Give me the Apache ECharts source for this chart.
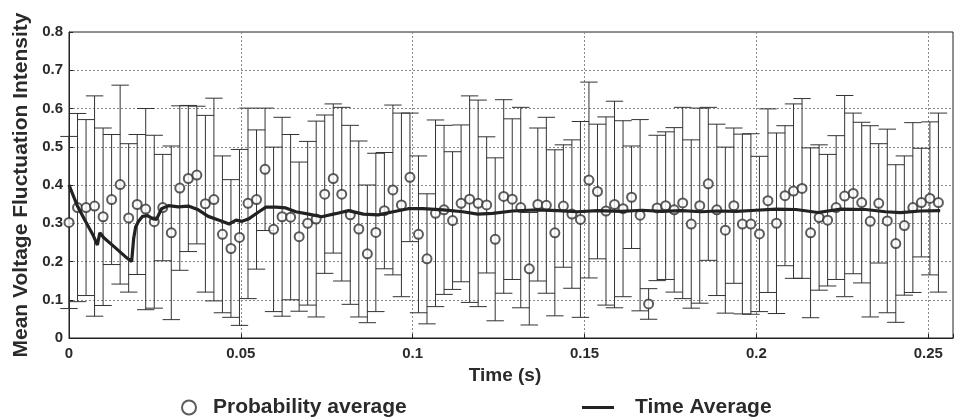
<!DOCTYPE html>
<html><head><meta charset="utf-8">
<script src="https://cdn.jsdelivr.net/npm/echarts@6/dist/echarts.min.js"></script>
<style>html,body{margin:0;padding:0;background:#fff}#c{width:956px;height:419px}</style>
</head><body><div id="c"></div>
<script>
// Sample times (s)
const times = [0,0.00248,0.00496,0.00744,0.00992,0.0124,0.01488,0.01736,0.01984,0.02232,
0.0248,0.02728,0.02976,0.03224,0.03472,0.0372,0.03968,0.04216,0.04464,0.04712,
0.0496,0.05208,0.05456,0.05704,0.05952,0.062,0.06448,0.06696,0.06944,0.07192,
0.0744,0.07688,0.07936,0.08184,0.08432,0.0868,0.08928,0.09176,0.09424,0.09672,
0.0992,0.10168,0.10416,0.10664,0.10912,0.1116,0.11408,0.11656,0.11904,0.12152,
0.124,0.12648,0.12896,0.13144,0.13392,0.1364,0.13888,0.14136,0.14384,0.14632,
0.1488,0.15128,0.15376,0.15624,0.15872,0.1612,0.16368,0.16616,0.16864,0.17112,
0.1736,0.17608,0.17856,0.18104,0.18352,0.186,0.18848,0.19096,0.19344,0.19592,
0.1984,0.20088,0.20336,0.20584,0.20832,0.2108,0.21328,0.21576,0.21824,0.22072,
0.2232,0.22568,0.22816,0.23064,0.23312,0.2356,0.23808,0.24056,0.24304,0.24552,
0.248,0.25048,0.25296];
// Probability average (circles)
const probAvg = [0.302,0.341,0.341,0.345,0.317,0.362,0.401,0.314,0.349,0.337,
0.304,0.341,0.275,0.392,0.417,0.426,0.351,0.362,0.271,0.234,
0.263,0.352,0.362,0.441,0.284,0.317,0.316,0.265,0.300,0.311,
0.376,0.417,0.376,0.322,0.285,0.220,0.276,0.333,0.387,0.348,
0.420,0.271,0.207,0.326,0.335,0.307,0.352,0.363,0.352,0.348,
0.258,0.370,0.363,0.341,0.181,0.349,0.347,0.275,0.345,0.324,
0.310,0.413,0.383,0.332,0.349,0.338,0.368,0.321,0.089,0.340,
0.346,0.335,0.353,0.298,0.346,0.403,0.335,0.282,0.346,0.298,
0.298,0.272,0.359,0.300,0.372,0.384,0.391,0.275,0.315,0.308,
0.341,0.371,0.378,0.354,0.305,0.352,0.306,0.247,0.294,0.341,
0.354,0.365,0.354];
// Error bar half-widths
const errHalf = [0.225,0.246,0.230,0.288,0.232,0.170,0.260,0.194,0.183,0.263,
0.226,0.139,0.227,0.215,0.191,0.180,0.231,0.265,0.205,0.180,
0.230,0.249,0.182,0.160,0.215,0.260,0.216,0.195,0.214,0.256,
0.207,0.195,0.227,0.234,0.230,0.180,0.207,0.152,0.222,0.240,
0.168,0.205,0.170,0.244,0.221,0.180,0.205,0.270,0.270,0.178,
0.213,0.253,0.210,0.262,0.147,0.200,0.230,0.217,0.160,0.194,
0.256,0.256,0.176,0.246,0.270,0.230,0.134,0.250,0.040,0.190,
0.193,0.215,0.250,0.220,0.255,0.200,0.224,0.217,0.203,0.235,
0.236,0.203,0.240,0.236,0.183,0.228,0.235,0.222,0.190,0.172,
0.188,0.263,0.210,0.210,0.250,0.156,0.240,0.206,0.182,0.222,
0.142,0.200,0.234];
// Time average curve
const timeAvgT = [0,0.00231,0.00463,0.00694,0.00825,0.00897,0.01013,0.0136,0.01649,0.01823,
0.01881,0.01939,0.02025,0.02141,0.02286,0.02431,0.02546,0.02691,0.02894,0.03183,
0.03472,0.03762,0.04051,0.04369,0.04659,0.04861,0.05035,0.05237,0.05527,0.05729,
0.06019,0.06308,0.06597,0.06973,0.0735,0.07755,0.08131,0.08565,0.09,0.09433,
0.09867,0.10301,0.1088,0.11458,0.11892,0.12326,0.12905,0.13628,0.14207,0.14786,
0.15365,0.16088,0.16667,0.17245,0.17824,0.18403,0.18837,0.19416,0.19994,0.20573,
0.21152,0.21788,0.22454,0.23177,0.23756,0.2419,0.24769,0.25347];
const timeAvgV = [0.400,0.348,0.308,0.270,0.243,0.275,0.262,0.235,0.212,0.200,
0.260,0.290,0.305,0.318,0.320,0.312,0.310,0.338,0.346,0.343,
0.345,0.335,0.318,0.308,0.298,0.308,0.305,0.312,0.330,0.342,
0.342,0.340,0.330,0.324,0.317,0.325,0.333,0.324,0.322,0.330,
0.338,0.338,0.335,0.330,0.324,0.326,0.332,0.335,0.333,0.330,
0.333,0.331,0.334,0.331,0.333,0.330,0.332,0.331,0.334,0.337,
0.336,0.328,0.337,0.336,0.330,0.328,0.332,0.333];
const xTicks = ['0','0.05','0.1','0.15','0.2','0.25'];
const yTicks = ['0','0.1','0.2','0.3','0.4','0.5','0.6','0.7','0.8'];

const FONT = '"Liberation Sans", Arial, sans-serif';
const INK = '#2a2a2a';
const scatterData = times.map((t,i)=>[t, probAvg[i]]);
const errData = times.map((t,i)=>[t, probAvg[i]-errHalf[i], probAvg[i]+errHalf[i]]);
const lineData = timeAvgT.map((t,i)=>[t, timeAvgV[i]]);
const CAP = 0.00253;

const chart = echarts.init(document.getElementById('c'), null, {renderer:'canvas'});
chart.setOption({
  animation:false,
  backgroundColor:'#fff',
  grid:{left:69, top:32, right:-2, bottom:81, show:true, borderColor:'#222', borderWidth:1},
  xAxis:{type:'value', min:0, max:0.2572, interval:0.05,
    name:'Time (s)', nameLocation:'middle', nameGap:24,
    nameTextStyle:{fontFamily:FONT, fontWeight:'bold', fontSize:19, color:INK, padding:[0,12,0,0]},
    axisLine:{show:true, onZero:false, lineStyle:{color:'#222', width:1}},
    axisTick:{show:true, inside:true, length:4, lineStyle:{color:'#222'}},
    axisLabel:{margin:8, fontFamily:FONT, fontWeight:'bold', fontSize:15, color:INK,
      formatter:(v)=>{const k=Math.round(v/0.05); return xTicks[k]!==undefined && Math.abs(v-k*0.05)<1e-9 ? xTicks[k] : '';}},
    splitLine:{show:true, lineStyle:{color:'#8a8a8a', type:[2,2], width:1}}
  },
  yAxis:{type:'value', min:0, max:0.8, interval:0.1,
    name:'Mean Voltage Fluctuation Intensity', nameLocation:'middle', nameGap:33, nameRotate:90,
    nameTextStyle:{fontFamily:FONT, fontWeight:'bold', fontSize:21, color:INK, padding:[0,0,0,0]},
    axisLine:{show:true, lineStyle:{color:'#222', width:1}},
    axisTick:{show:true, inside:true, length:4, lineStyle:{color:'#222'}},
    axisLabel:{margin:6, fontFamily:FONT, fontWeight:'bold', fontSize:15, color:INK,
      formatter:(v)=>yTicks[Math.round(v*10)]},
    splitLine:{show:true, lineStyle:{color:'#8a8a8a', type:[2,2], width:1}}
  },
  legend:[
    {data:[{name:'Probability average', icon:'emptyCircle'}], left:181, top:397, padding:0, itemWidth:14, itemHeight:14,
      textStyle:{fontFamily:FONT, fontWeight:'bold', fontSize:21, color:INK, padding:[0,0,0,12]}},
    {data:[{name:'Time Average', icon:'rect'}], left:582, top:397, padding:0, itemWidth:32, itemHeight:3,
      textStyle:{fontFamily:FONT, fontWeight:'bold', fontSize:21, color:INK, padding:[0,0,0,16]}}
  ],
  series:[
    {type:'custom', name:'err', data:errData, silent:true, z:2,
      renderItem:(params, api)=>{
        const x=api.value(0), lo=api.value(1), hi=api.value(2);
        const pt=api.coord([x,hi]), pb=api.coord([x,lo]);
        const l=api.coord([x-CAP,hi])[0], r=api.coord([x+CAP,hi])[0];
        const st={stroke:'#333', lineWidth:1};
        return {type:'group', children:[
          {type:'line', shape:{x1:pt[0],y1:pt[1],x2:pb[0],y2:pb[1]}, style:st},
          {type:'line', shape:{x1:l,y1:pt[1],x2:r,y2:pt[1]}, style:st},
          {type:'line', shape:{x1:l,y1:pb[1],x2:r,y2:pb[1]}, style:st}
        ]};
      }},
    {type:'scatter', name:'Probability average', data:scatterData, symbol:'emptyCircle', symbolSize:9, z:3,
      itemStyle:{color:'#333', borderColor:'#333', borderWidth:1}},
    {type:'line', name:'Time Average', data:lineData, showSymbol:false, smooth:false, z:4,
      lineStyle:{color:'#222', width:3.2}, itemStyle:{color:'#222'}}
  ]
});
</script></body></html>
